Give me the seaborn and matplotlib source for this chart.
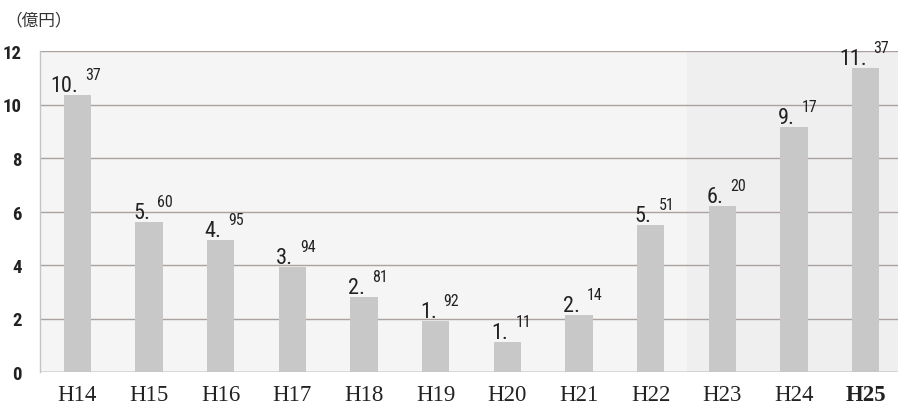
import matplotlib
matplotlib.use("Agg")
import matplotlib.pyplot as plt
import seaborn as sns
import pandas as pd

categories = ["H14", "H15", "H16", "H17", "H18", "H19", "H20", "H21", "H22", "H23", "H24", "H25"]
values = [10.37, 5.60, 4.95, 3.94, 2.81, 1.92, 1.11, 2.14, 5.51, 6.20, 9.17, 11.37]
int_parts = ["10.", "5.", "4.", "3.", "2.", "1.", "1.", "2.", "5.", "6.", "9.", "11."]
dec_parts = ["37", "60", "95", "94", "81", "92", "11", "14", "51", "20", "17", "37"]
yticks = [0, 2, 4, 6, 8, 10, 12]
unit_label = "（億円）"

df = pd.DataFrame({"year": categories, "value": values})

sns.set_theme(style="white")
narrow = ["Roboto Condensed", "Liberation Sans Narrow", "Roboto", "DejaVu Sans"]
plt.rcParams["font.family"] = narrow

fig = plt.figure(figsize=(8.98, 4.10), dpi=100)
ax = fig.add_axes([40 / 898, 37 / 410, 858 / 898, 321 / 410])
ax.set_facecolor("#efefef")
ax.axvspan(-0.52, 8.5, color="#f5f5f5", zorder=0, lw=0)

sns.barplot(data=df, x="year", y="value", color="#c8c8c8", width=0.38,
            saturation=1, linewidth=0, edgecolor="none", ax=ax, zorder=3)

ax.set_xlim(-0.52, 11.45)
ax.set_ylim(0, 12)
ax.set_yticks(yticks)
ax.yaxis.grid(True, color="#aaa29e", linewidth=1.0, zorder=1)
ax.set_axisbelow(True)
for s in ["top", "right", "bottom"]:
    ax.spines[s].set_visible(False)
ax.spines["left"].set_color("#c4c4c4")
ax.spines["left"].set_linewidth(1.0)
ax.axhline(0, color="#aaa29e", linewidth=1.0, zorder=2)

ax.set_xlabel("")
ax.set_ylabel("")
ax.tick_params(axis="y", length=0, pad=13, labelsize=13.5, labelcolor="#222222")
for lab in ax.get_yticklabels():
    lab.set_fontweight("bold")
ax.tick_params(axis="x", length=0, pad=9, labelsize=16.5, labelcolor="#222222")
for lab in ax.get_xticklabels():
    lab.set_family(["Liberation Serif", "DejaVu Serif"])
    if lab.get_text() == "H25":
        lab.set_fontweight("bold")

for i, (v, ip, dp) in enumerate(zip(values, int_parts, dec_parts)):
    ax.annotate(ip, xy=(i, v), xytext=(1, 4), textcoords="offset pixels",
                ha="right", va="baseline", fontsize=16, color="#222222", zorder=5)
    ax.annotate(dp, xy=(i, v), xytext=(8, 16), textcoords="offset pixels",
                ha="left", va="baseline", fontsize=11.5, color="#222222", zorder=5)

fig.text(5 / 898, 1 - 21 / 410, unit_label, ha="left", va="center", fontsize=12,
         color="#333333", family=["Noto Sans CJK JP", "DejaVu Sans"])

fig.savefig("out.png", dpi=100, facecolor="white")
